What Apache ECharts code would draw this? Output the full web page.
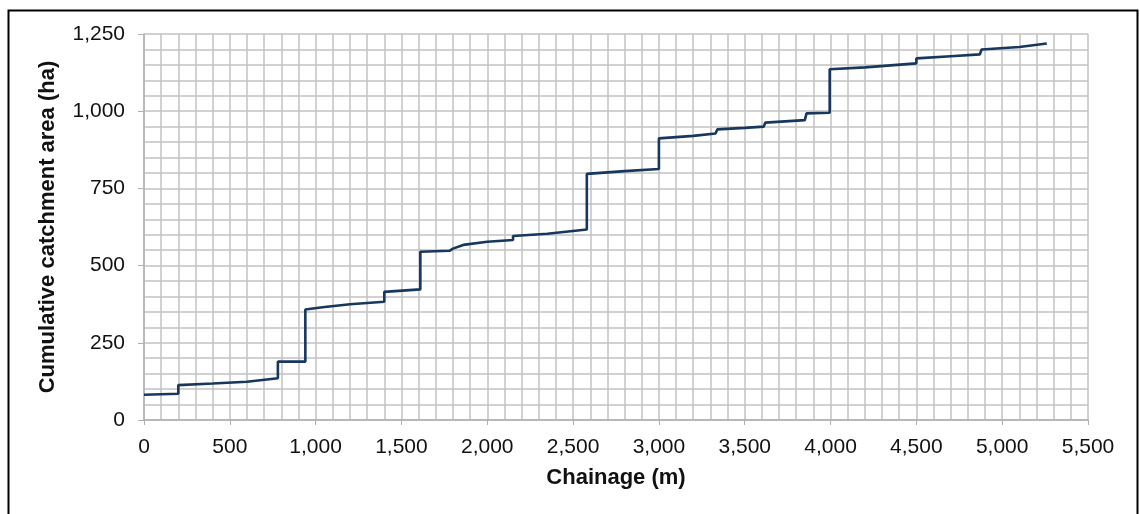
<!DOCTYPE html>
<html>
<head>
<meta charset="utf-8">
<script src="https://cdn.jsdelivr.net/npm/echarts@6/dist/echarts.min.js"></script>
<style>
html,body{margin:0;padding:0;background:#fff;}
#chart{width:1140px;height:514px;}
</style>
</head>
<body>
<div id="chart"></div>
<script>
const chainage = [0, 200, 200, 400, 600, 780, 780, 940, 940, 1040, 1050, 1200, 1400, 1400, 1610, 1610, 1780, 1800, 1860, 2000, 2150, 2150, 2350, 2580, 2580, 2800, 3000, 3000, 3200, 3330, 3340, 3500, 3610, 3620, 3850, 3860, 3995, 3995, 4200, 4500, 4500, 4700, 4870, 4880, 5100, 5260];
const area = [82, 85, 113, 118, 124, 135, 189, 189, 358, 365, 370, 375, 383, 415, 423, 545, 548, 555, 567, 577, 583, 596, 603, 617, 797, 806, 813, 912, 920, 928, 941, 946, 950, 963, 971, 993, 995, 1136, 1142, 1155, 1171, 1178, 1184, 1200, 1208, 1219];
const xTicks = [0, 500, 1000, 1500, 2000, 2500, 3000, 3500, 4000, 4500, 5000, 5500];
const yTicks = [0, 250, 500, 750, 1000, 1250];
const xTitle = 'Chainage (m)';
const yTitle = 'Cumulative catchment area (ha)';

const fmt = v => v.toLocaleString('en-US');
const FONT = '"Liberation Sans", Arial, sans-serif';
const gridColor = '#c2c2c2';

const chart = echarts.init(document.getElementById('chart'), null, {renderer: 'canvas'});
chart.setOption({
  animation: false,
  backgroundColor: '#fff',
  grid: {left: 144, right: 52, top: 34, bottom: 94, containLabel: false},
  graphic: [{
    type: 'rect', silent: true, z: 100,
    shape: {x: 8.5, y: 10.5, width: 1129, height: 530},
    style: {fill: 'none', stroke: '#000', lineWidth: 2}
  }],
  xAxis: {
    type: 'value',
    min: xTicks[0], max: xTicks[xTicks.length - 1], interval: 500,
    name: xTitle, nameLocation: 'middle', nameGap: 47,
    nameTextStyle: {fontFamily: FONT, fontWeight: 'bold', fontSize: 22, color: '#111'},
    axisLine: {show: true, lineStyle: {color: '#b0b0b0', width: 1.5}},
    axisTick: {show: true, length: 5, lineStyle: {color: '#b0b0b0'}},
    axisLabel: {fontFamily: FONT, fontSize: 21, color: '#111', margin: 17, formatter: fmt},
    splitLine: {show: true, lineStyle: {color: gridColor, width: 1.5}},
    minorTick: {show: false, splitNumber: 5},
    minorSplitLine: {show: true, lineStyle: {color: gridColor, width: 1.5}}
  },
  yAxis: {
    type: 'value',
    min: yTicks[0], max: yTicks[yTicks.length - 1], interval: 250,
    name: yTitle, nameLocation: 'middle', nameGap: 85,
    nameTextStyle: {fontFamily: FONT, fontWeight: 'bold', fontSize: 22, color: '#111'},
    axisLine: {show: true, lineStyle: {color: '#b0b0b0', width: 1.5}},
    axisTick: {show: true, length: 6, lineStyle: {color: '#b0b0b0'}},
    axisLabel: {fontFamily: FONT, fontSize: 21, color: '#111', margin: 19, formatter: fmt},
    splitLine: {show: true, lineStyle: {color: gridColor, width: 1.5}},
    minorTick: {show: false, splitNumber: 5},
    minorSplitLine: {show: true, lineStyle: {color: gridColor, width: 1.5}}
  },
  series: [{
    type: 'line',
    data: chainage.map((c, i) => [c, area[i]]),
    showSymbol: false,
    lineStyle: {color: '#17375e', width: 2.6},
    z: 10
  }]
});
</script>
</body>
</html>
